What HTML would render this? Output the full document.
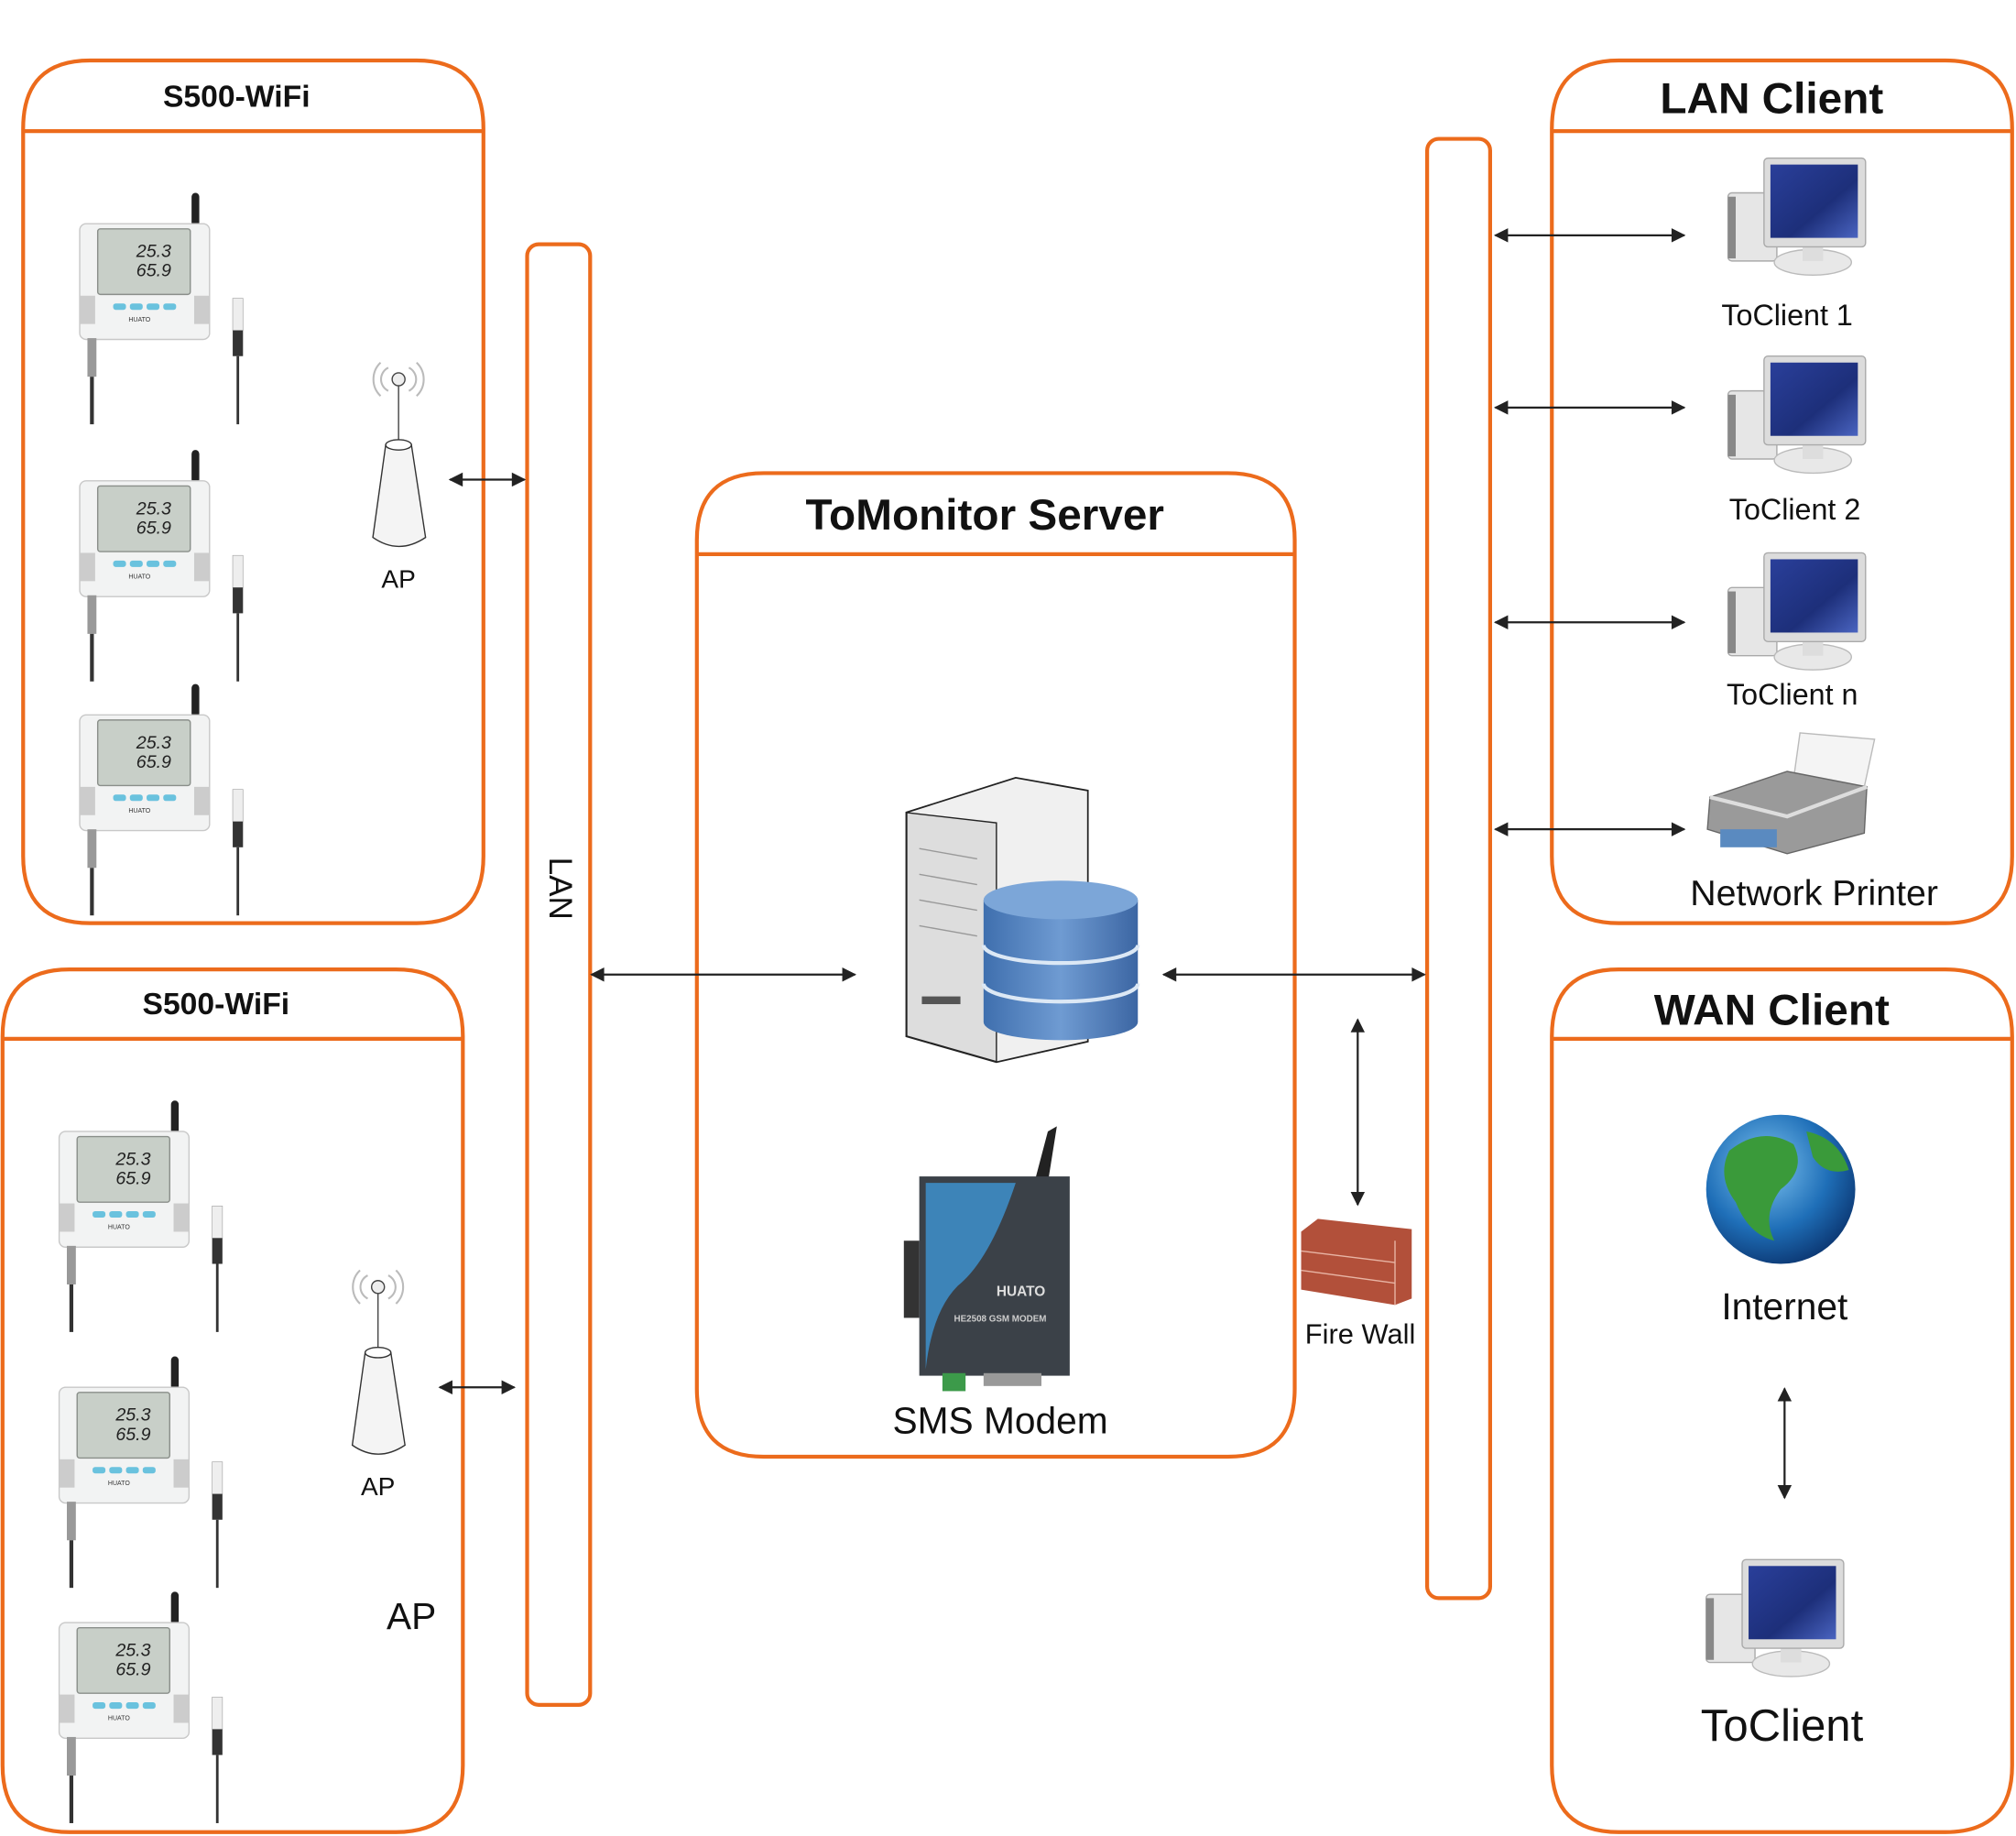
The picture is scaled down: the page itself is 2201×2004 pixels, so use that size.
<!DOCTYPE html>
<html><head><meta charset="utf-8"><style>
html,body{margin:0;padding:0;background:#fff;}
svg{display:block;}
text{font-family:"Liberation Sans",sans-serif;}
</style></head><body>
<svg width="2201" height="2004" viewBox="0 0 1568 1428" preserveAspectRatio="none" xmlns="http://www.w3.org/2000/svg">
<defs>
<marker id="ah" viewBox="0 0 10 10" refX="9" refY="5" markerWidth="12" markerHeight="11" markerUnits="userSpaceOnUse" orient="auto-start-reverse"><path d="M0,0 L10,5 L0,10 Z" fill="#222"/></marker>
<linearGradient id="scr" x1="0" y1="0" x2="1" y2="1"><stop offset="0" stop-color="#2a3f9a"/><stop offset="0.6" stop-color="#1d2f7a"/><stop offset="1" stop-color="#4a64c0"/></linearGradient>
<linearGradient id="db" x1="0" y1="0" x2="1" y2="0"><stop offset="0" stop-color="#3f6fae"/><stop offset="0.5" stop-color="#6f9bd2"/><stop offset="1" stop-color="#3c66a3"/></linearGradient>
<radialGradient id="globe" cx="0.4" cy="0.35" r="0.7"><stop offset="0" stop-color="#7fc4f0"/><stop offset="0.6" stop-color="#1f6fb8"/><stop offset="1" stop-color="#0b3570"/></radialGradient>
<g id="dev">
 <rect x="89" y="0" width="6" height="26" rx="3" fill="#222"/>
 <rect x="2" y="24" width="101" height="90" rx="5" fill="#f2f3f3" stroke="#c8c8c8"/>
 <rect x="16" y="28" width="72" height="51" rx="2" fill="#c8cfc8" stroke="#8a8f8a"/>
 <text x="46" y="50" font-size="14" font-style="italic" fill="#222">25.3</text>
 <text x="46" y="65" font-size="14" font-style="italic" fill="#222">65.9</text>
 <rect x="2" y="80" width="12" height="22" fill="#ccc"/>
 <rect x="91" y="80" width="12" height="22" fill="#ccc"/>
 <rect x="28" y="86" width="10" height="5" rx="2" fill="#6ac2de"/>
 <rect x="41" y="86" width="10" height="5" rx="2" fill="#6ac2de"/>
 <rect x="54" y="86" width="10" height="5" rx="2" fill="#6ac2de"/>
 <rect x="67" y="86" width="10" height="5" rx="2" fill="#6ac2de"/>
 <text x="40" y="100" font-size="5" fill="#333">HUATO</text>
 <rect x="8" y="113" width="7" height="30" fill="#999"/>
 <rect x="10" y="143" width="3" height="37" fill="#333"/>
 <rect x="121" y="82" width="8" height="25" fill="#eee" stroke="#aaa" stroke-width="0.5"/>
 <rect x="121" y="107" width="8" height="20" fill="#333"/>
 <rect x="124" y="127" width="2" height="53" fill="#333"/>
</g>
<g id="pc">
 <rect x="4" y="27" width="38" height="53" rx="3" fill="#e6e6e6" stroke="#aaa"/>
 <rect x="4" y="30" width="6" height="48" fill="#888"/>
 <ellipse cx="70" cy="81" rx="30" ry="10" fill="#e8e8e8" stroke="#bbb"/>
 <rect x="62" y="66" width="16" height="14" fill="#ddd"/>
 <rect x="32" y="0" width="79" height="69" rx="3" fill="#dcdcdc" stroke="#aaa"/>
 <rect x="37" y="5" width="68" height="57" fill="url(#scr)"/>
</g>
<g id="ap">
 <path d="M296,282 A18,18 0 0 0 296,308" fill="none" stroke="#bbb" stroke-width="1.5"/>
 <path d="M302,286 A10,10 0 0 0 302,304" fill="none" stroke="#bbb" stroke-width="1.5"/>
 <path d="M324,282 A18,18 0 0 1 324,308" fill="none" stroke="#bbb" stroke-width="1.5"/>
 <path d="M318,286 A10,10 0 0 1 318,304" fill="none" stroke="#bbb" stroke-width="1.5"/>
 <circle cx="310" cy="295" r="5" fill="#eee" stroke="#444"/>
 <line x1="310" y1="300" x2="310" y2="345" stroke="#444"/>
 <path d="M300,346 L290,418 Q310,432 331,418 L320,346 Z" fill="#f4f4f4" stroke="#333"/>
 <ellipse cx="310" cy="346" rx="10" ry="4" fill="#fff" stroke="#333"/>
</g>
</defs>

<g fill="none" stroke="#ec6b1c" stroke-width="3">
 <path d="M18,666 V100 Q18,47 70,47 H324 Q376,47 376,100 V666 Q376,718 324,718 H70 Q18,718 18,666 Z"/>
 <line x1="18" y1="102" x2="376" y2="102"/>
 <path d="M2,1373 V806 Q2,754 54,754 H308 Q360,754 360,806 V1373 Q360,1425 308,1425 H54 Q2,1425 2,1373 Z"/>
 <line x1="2" y1="808" x2="360" y2="808"/>
 <rect x="410" y="190" width="49" height="1136" rx="9"/>
 <path d="M542,1080 V420 Q542,368 594,368 H955 Q1007,368 1007,420 V1080 Q1007,1133 955,1133 H594 Q542,1133 542,1080 Z"/>
 <line x1="542" y1="431" x2="1007" y2="431"/>
 <rect x="1110" y="108" width="49" height="1135" rx="9"/>
 <path d="M1207,666 V100 Q1207,47 1259,47 H1513 Q1565,47 1565,100 V666 Q1565,718 1513,718 H1259 Q1207,718 1207,666 Z"/>
 <line x1="1207" y1="102" x2="1565" y2="102"/>
 <path d="M1207,1373 V806 Q1207,754 1259,754 H1513 Q1565,754 1565,806 V1373 Q1565,1425 1513,1425 H1259 Q1207,1425 1207,1373 Z"/>
 <line x1="1207" y1="808" x2="1565" y2="808"/>
</g>

<g font-weight="bold" text-anchor="middle" fill="#111">
 <text x="184" y="83" font-size="24">S500-WiFi</text>
 <text x="168" y="789" font-size="24">S500-WiFi</text>
 <text x="766" y="412" font-size="34">ToMonitor Server</text>
 <text x="1378" y="88" font-size="34">LAN Client</text>
 <text x="1378" y="797" font-size="34">WAN Client</text>
</g>

<use href="#dev" transform="translate(60,150)"/>
<use href="#dev" transform="translate(60,350)"/>
<use href="#dev" transform="translate(60,532)"/>
<use href="#dev" transform="translate(44,856)"/>
<use href="#dev" transform="translate(44,1055)"/>
<use href="#dev" transform="translate(44,1238)"/>
<use href="#ap"/>
<use href="#ap" transform="translate(-16,706)"/>

<use href="#pc" transform="translate(1340,123)"/>
<use href="#pc" transform="translate(1340,277)"/>
<use href="#pc" transform="translate(1340,430)"/>
<use href="#pc" transform="translate(1323,1213)"/>

<path d="M1400,570 L1458,575 L1450,612 L1395,606 Z" fill="#f4f4f4" stroke="#bbb"/>
<path d="M1330,620 L1390,600 L1452,612 L1450,648 L1390,664 L1328,645 Z" fill="#9a9a9a" stroke="#666"/>
<path d="M1330,620 L1390,635 L1452,612" fill="none" stroke="#ddd" stroke-width="3"/>
<rect x="1338" y="645" width="44" height="14" fill="#5a8ac0"/>

<path d="M705,632 L790,605 L846,615 L846,810 L775,826 L705,806 Z" fill="#ddd" stroke="#222" stroke-width="1.5"/>
<path d="M790,605 L846,615 L846,810 L775,826 L775,640 L705,632 Z" fill="#f0f0f0" stroke="#222" stroke-width="1"/>
<rect x="717" y="775" width="30" height="6" fill="#555"/>
<g stroke="#999"><line x1="715" y1="660" x2="760" y2="668"/><line x1="715" y1="680" x2="760" y2="688"/><line x1="715" y1="700" x2="760" y2="708"/><line x1="715" y1="720" x2="760" y2="728"/></g>
<path d="M765,700 V795 A60,14 0 0 0 885,795 V700 Z" fill="url(#db)"/>
<ellipse cx="825" cy="700" rx="60" ry="15" fill="#7ca6d8"/>
<path d="M765,735 A60,14 0 0 0 885,735 M765,765 A60,14 0 0 0 885,765" fill="none" stroke="#dce8f5" stroke-width="3"/>

<path d="M805,918 L815,880 L822,876 L815,920 Z" fill="#222"/>
<rect x="703" y="965" width="12" height="60" fill="#333"/>
<rect x="715" y="915" width="117" height="155" fill="#3b4148"/>
<path d="M720,920 H790 Q770,980 745,1000 Q725,1020 720,1065 Z" fill="#3d84b8"/>
<text x="775" y="1008" font-size="11" font-weight="bold" fill="#ddd">HUATO</text>
<text x="742" y="1028" font-size="7" font-weight="bold" fill="#ccc">HE2508 GSM MODEM</text>
<rect x="733" y="1068" width="18" height="14" fill="#3c9a4a"/>
<rect x="765" y="1068" width="45" height="10" fill="#999"/>

<path d="M1012,958 L1025,948 L1098,956 L1098,1010 L1085,1015 L1012,1003 Z" fill="#b2503a"/>
<g stroke="#e8b4a4" stroke-width="1"><line x1="1012" y1="973" x2="1085" y2="982"/><line x1="1012" y1="988" x2="1085" y2="998"/><line x1="1085" y1="965" x2="1085" y2="1015"/></g>

<circle cx="1385" cy="925" r="58" fill="url(#globe)"/>
<path d="M1345,895 Q1370,875 1395,890 Q1405,910 1385,925 Q1370,945 1380,965 Q1360,960 1350,935 Q1335,915 1345,895 Z" fill="#3a9a3a"/>
<path d="M1405,880 Q1430,885 1438,910 Q1420,915 1410,900 Z" fill="#3a9a3a"/>

<g stroke="#222" stroke-width="1.6" marker-start="url(#ah)" marker-end="url(#ah)">
 <line x1="350" y1="373" x2="408" y2="373"/>
 <line x1="342" y1="1079" x2="400" y2="1079"/>
 <line x1="460" y1="758" x2="665" y2="758"/>
 <line x1="905" y1="758" x2="1108" y2="758"/>
 <line x1="1056" y1="793" x2="1056" y2="937"/>
 <line x1="1163" y1="183" x2="1310" y2="183"/>
 <line x1="1163" y1="317" x2="1310" y2="317"/>
 <line x1="1163" y1="484" x2="1310" y2="484"/>
 <line x1="1163" y1="645" x2="1310" y2="645"/>
 <line x1="1388" y1="1080" x2="1388" y2="1165"/>
</g>

<g text-anchor="middle" fill="#111">
 <text x="310" y="457" font-size="20">AP</text>
 <text x="294" y="1163" font-size="20">AP</text>
 <text x="320" y="1267" font-size="29">AP</text>
 <text x="434" y="691" font-size="25" transform="rotate(90 434 691)" dominant-baseline="middle">LAN</text>
 <text x="1390" y="253" font-size="23">ToClient 1</text>
 <text x="1396" y="404" font-size="23">ToClient 2</text>
 <text x="1394" y="548" font-size="23">ToClient n</text>
 <text x="1411" y="704" font-size="28">Network Printer</text>
 <text x="1388" y="1026" font-size="29">Internet</text>
 <text x="1386" y="1354" font-size="35">ToClient</text>
 <text x="1058" y="1045" font-size="22">Fire Wall</text>
 <text x="778" y="1115" font-size="29">SMS Modem</text>
</g>
</svg>
</body></html>
